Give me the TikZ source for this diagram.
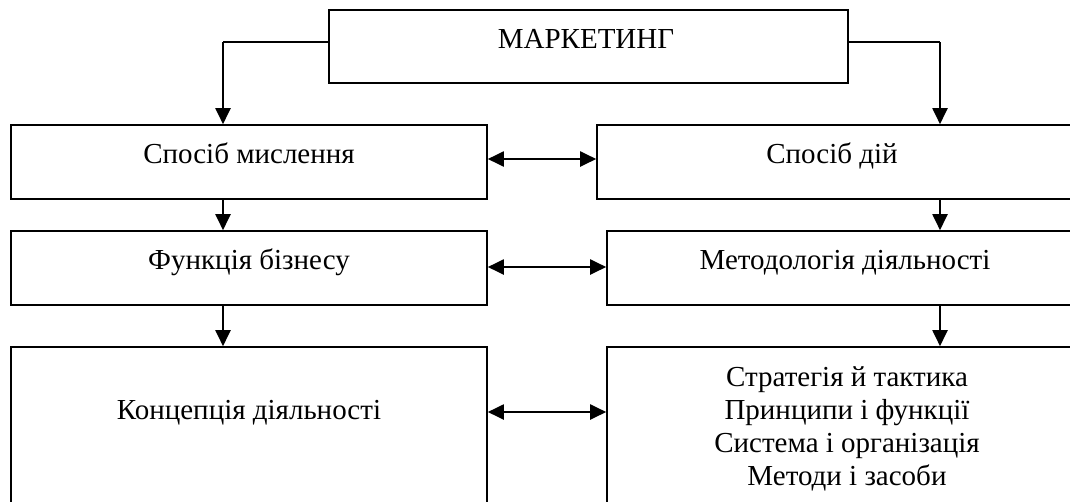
\documentclass[tikz,border=0pt]{standalone}
\usepackage{fontspec}
\setmainfont{Liberation Serif}
\usetikzlibrary{arrows.meta}
\tikzset{
  box/.style={draw=black, line width=1.6pt, rectangle, inner sep=0pt},
  lbl/.style={anchor=base, inner sep=0pt, font=\fontsize{29}{33}\selectfont},
  arr/.style={line width=2pt, -{Triangle[length=16pt,width=15pt]}},
  darr/.style={line width=2pt, {Triangle[length=16pt,width=15pt]}-{Triangle[length=16pt,width=15pt]}},
  link/.style={line width=1.6pt}
}
\begin{document}
\begin{tikzpicture}[x=1pt,y=-1pt]
\useasboundingbox (0,0) rectangle (1070,501);
\clip (0,0) rectangle (1070,501);
% boxes
\node[box, minimum width=519pt, minimum height=73pt] (mk) at (588.5,46.5) {};
\node[box, minimum width=476pt, minimum height=74pt] (l1) at (249,162) {};
\node[box, minimum width=475pt, minimum height=74pt] (r1) at (834.5,162) {};
\node[box, minimum width=476pt, minimum height=74pt] (l2) at (249,268) {};
\node[box, minimum width=477pt, minimum height=74pt] (r2) at (845.5,268) {};
\node[box, minimum width=476pt, minimum height=173pt] (l3) at (249,433.5) {};
\node[box, minimum width=477pt, minimum height=173pt] (r3) at (845.5,433.5) {};
% texts
\node[lbl] (tmk) at (586,48) {МАРКЕТИНГ};
\node[lbl] (tl1) at (249,163) {Спосіб мислення};
\node[lbl] (tr1) at (832,163) {Спосіб дій};
\node[lbl] (tl2) at (249,269) {Функція бізнесу};
\node[lbl] (tr2) at (845,269) {Методологія діяльності};
\node[lbl] (tl3) at (249,419) {Концепція діяльності};
\node[lbl] (tr3a) at (847,386) {Стратегія й тактика};
\node[lbl] (tr3b) at (847,419) {Принципи і функції};
\node[lbl] (tr3c) at (847,452) {Система і організація};
\node[lbl] (tr3d) at (847,485) {Методи і засоби};
% connector columns
\coordinate (lc) at (223,0);
\coordinate (rc) at (940,0);
% from top box
\draw[link] ([yshift=4.5pt]mk.west) -- ([yshift=4.5pt]mk.west -| lc);
\draw[arr] ([yshift=4.5pt]mk.west -| lc) -- (lc |- l1.north);
\draw[link] ([yshift=4.5pt]mk.east) -- ([yshift=4.5pt]mk.east -| rc);
\draw[arr] ([yshift=4.5pt]mk.east -| rc) -- (rc |- r1.north);
% vertical arrows
\draw[arr] (lc |- l1.south) -- (lc |- l2.north);
\draw[arr] (lc |- l2.south) -- (lc |- l3.north);
\draw[arr] (rc |- r1.south) -- (rc |- r2.north);
\draw[arr] (rc |- r2.south) -- (rc |- r3.north);
% double arrows
\draw[darr] ([yshift=3pt]l1.east) -- ([yshift=3pt]l1.east -| r1.west);
\draw[darr] ([yshift=1pt]l2.east) -- ([yshift=1pt]l2.east -| r2.west);
\draw[darr] ([yshift=21.5pt]l3.east) -- ([yshift=21.5pt]l3.east -| r3.west);
\end{tikzpicture}
\end{document}
